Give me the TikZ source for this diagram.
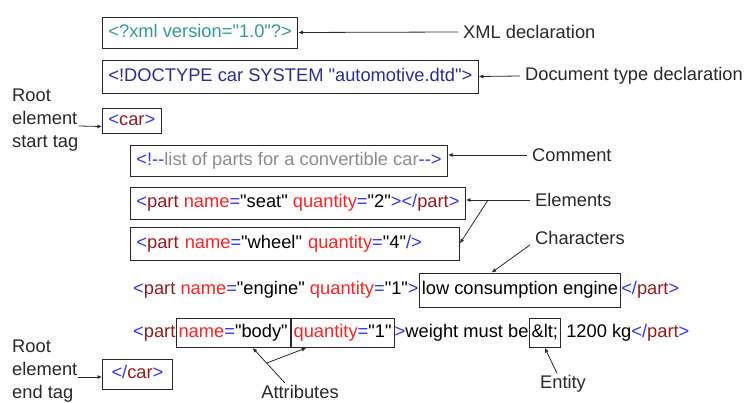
\documentclass[tikz,border=0pt]{standalone}
\usepackage{fontspec}
\setmainfont{Liberation Sans}[Ligatures=TeXOff]
\usetikzlibrary{positioning,calc,arrows.meta}

\definecolor{ink}{RGB}{40,40,40}
\definecolor{mkblue}{RGB}{51,51,255}
\definecolor{elred}{RGB}{153,26,26}
\definecolor{attred}{RGB}{255,34,34}
\definecolor{xmlteal}{RGB}{51,153,153}
\definecolor{docnavy}{RGB}{43,43,150}
\definecolor{cmtgray}{RGB}{140,140,140}

\newcommand{\mk}[1]{\textcolor{mkblue}{#1}}
\newcommand{\el}[1]{\textcolor{elred}{#1}}
\newcommand{\att}[1]{\textcolor{attred}{#1}}

\tikzset{codebox/.style={draw=ink, line width=0.9pt, anchor=west, inner xsep=6pt, inner ysep=0pt,
                         text height=13.5pt, text depth=4pt, minimum height=31pt},
         inbox/.style={draw=ink, line width=0.9pt, inner xsep=2.5pt, inner ysep=0pt,
                       text height=13.5pt, text depth=4pt, minimum height=29pt},
         codetext/.style={inner sep=0pt, text height=13.5pt, text depth=4pt},
         lbl/.style={text=ink, inner xsep=5pt, inner ysep=0pt, anchor=west},
         arr/.style={draw=ink, line width=0.8pt, -{Latex[length=4.5pt,width=4pt]}}}

\begin{document}
\begin{tikzpicture}[x=1pt, y=-1pt, every node/.style={font=\fontsize{18.3}{23}\selectfont}]

\useasboundingbox (0,0) rectangle (755,403);

% the document, line by line
\node[codebox, text=xmlteal] (xml) at (102,32.5) {<?xml version="1.0"?>};
\node[codebox, text=docnavy, minimum height=33pt] (doc) at (102,76.5) {<!DOCTYPE car SYSTEM "automotive.dtd">};
\node[codebox, minimum height=25pt] (car) at (102,120.5) {\mk{<}\el{car}\mk{>}};
\node[codebox, text=cmtgray] (cmt) at (130,160.5) {\mk{<!-\kern0pt-}list of parts for a convertible car\mk{-\kern0pt->}};
\node[codebox, minimum height=32pt] (seat) at (130,203) {\mk{<}\el{part} \att{name}\mk{=}"seat" \att{quantity}\mk{=}"2"\mk{></}\el{part}\mk{>}};
\node[codebox, minimum height=33pt, text width=317pt, align=left] (wheel) at (130,243.5) {\mk{<}\el{part} \att{name}\mk{=}"wheel" \att{quantity}\mk{=}"4"\mk{/>}};

\node[codetext, anchor=west] (eng) at (133,290) {\mk{<}\el{part} \att{name}\mk{=}"engine" \att{quantity}\mk{=}"1"\mk{>}};
\node[inbox, minimum height=34pt, base right=0pt of eng] (chars) {low consumption engine};
\node[codetext, base right=0pt of chars] (engend) {\mk{</}\el{part}\mk{>}};

\node[codetext, anchor=west] (body) at (133,333) {\mk{<}\el{part}};
\node[inbox, base right=0pt of body] (bname) {\att{name}\mk{=}"body"};
\node[inbox, base right=0pt of bname] (bqty) {\att{quantity}\mk{=}"1"};
\node[codetext, base right=0pt of bqty] (bwt) {\mk{>}weight must be};
\node[inbox, base right=0pt of bwt] (blt) {\&lt;};
\node[codetext, base right=0pt of blt] (bend) {\ 1200 kg\mk{</}\el{part}\mk{>}};

\node[codebox, minimum height=30pt, minimum width=70pt] (endcar) at (102,374) {\mk{</}\el{car}\mk{>}};

% labels
\node[lbl] (xmllbl) at (458,32) {XML declaration};
\node[lbl] (doclbl) at (520,76) {Document type declaration};
\node[lbl, align=left, inner xsep=0pt] (rootstart) at (12,120) {Root\\element\\start tag};
\node[lbl] (cmtlbl) at (527,155) {Comment};
\node[lbl] (elemlbl) at (530,200) {Elements};
\node[lbl] (charlbl) at (530,238) {Characters};
\node[text=ink, inner sep=0pt] (attrlbl) at (300,392) {Attributes};
\node[text=ink, inner sep=0pt] (entlbl) at (563,384) {Entity};
\node[lbl, align=left, inner xsep=0pt] (rootend) at (12,371) {Root\\element\\end tag};

% arrows
\draw[arr] (xmllbl.west) -- (xml.east);
\draw[arr] (doclbl.west) -- (doc.east);
\draw[arr] ([yshift=-6pt]rootstart.east) -- ([yshift=-6pt]car.west);
\draw[arr] (cmtlbl.west) -- (cmtlbl.west -| cmt.east);
\draw[arr] (elemlbl.west) -- (elemlbl.west -| seat.east);
\coordinate (elfork) at (488,200);
\draw[arr] (elfork) -- (wheel.east);
\draw[arr] (charlbl.south west) -- ($(chars.north west)!0.36!(chars.north east)$);
\coordinate (attrtail) at ([xshift=-15pt,yshift=2pt]attrlbl.north);
\coordinate (nametip) at ($(bname.south west)!0.67!(bname.south east)$);
\coordinate (attrfork) at ($(attrtail)!0.57!(nametip)$);
\draw[arr] (attrtail) -- (nametip);
\draw[arr] (attrfork) -- ($(bqty.south west)!0.15!(bqty.south east)$);
\draw[arr] ([xshift=-6pt,yshift=2pt]entlbl.north) -- (blt.south);
\draw[arr] ([yshift=-6pt]rootend.east) -- ([yshift=-3pt]endcar.west);

\end{tikzpicture}
\end{document}
